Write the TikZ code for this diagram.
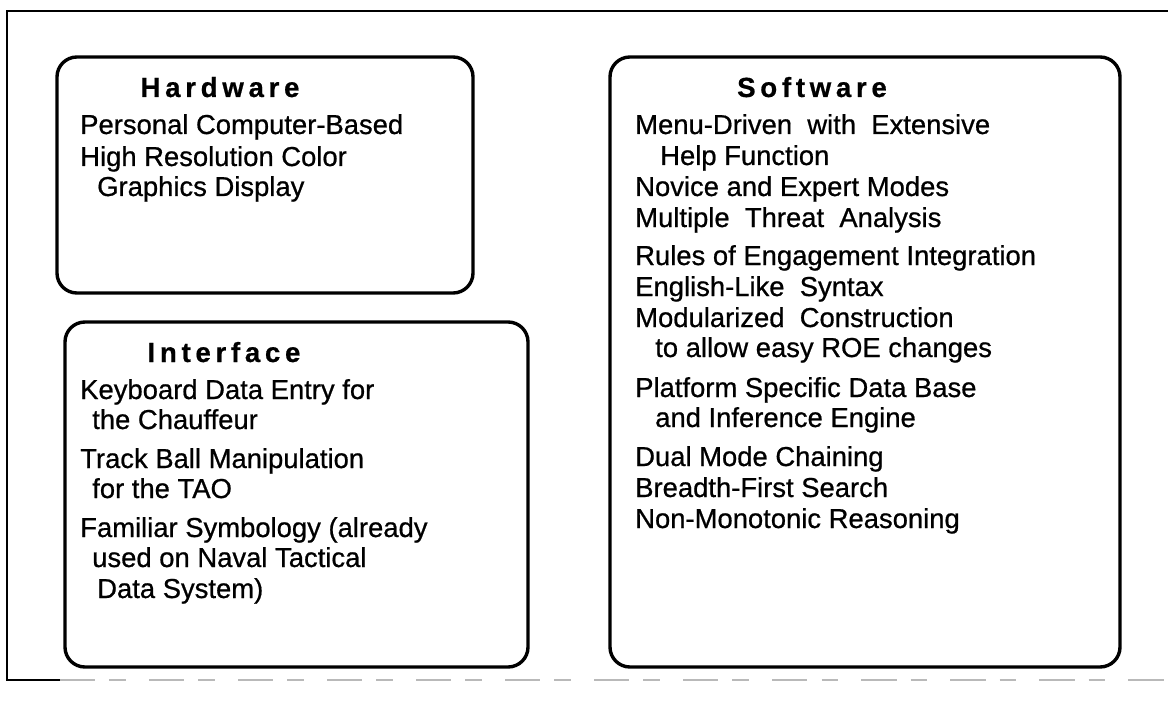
\documentclass[tikz,border=0pt]{standalone}
\usepackage{fontspec}
\setmainfont{Liberation Sans}[FakeBold=0.7]
\newfontfamily\headfont[LetterSpace=17,FakeBold=0.6]{Liberation Sans Bold}
\usetikzlibrary{fit}
\begin{document}
\begin{tikzpicture}[x=0.03cm, y=-0.03cm,
  panel/.style={draw, line width=2.9pt, rounded corners=17pt, inner sep=0pt},
  heading/.style={anchor=base, inner sep=0pt, font=\fontsize{23.6pt}{28pt}\headfont},
  item/.style={anchor=base west, inner sep=0pt, font=\fontsize{23.4pt}{28pt}\selectfont},
  frameline/.style={line width=1.8pt}]
\useasboundingbox (0,0) rectangle (1168,706);

% outer frame
\coordinate (ftr) at (1168,11);
\coordinate (ftl) at (7,11);
\coordinate (fbl) at (7,680);
\coordinate (fbm) at (60,680);
\coordinate (fbr) at (1168,680);
\draw[frameline] (ftr) -- (ftl) -- (fbl) -- (fbm);
\draw[frameline, gray!55, dash pattern=on 30pt off 12pt on 14pt off 20pt] (fbm) -- (fbr);

% panels
\node[panel, fit={(57,57) (473,293)}] (hw) {};
\node[panel, fit={(65,322) (528,667)}] (ifc) {};
\node[panel, fit={(610,57) (1120,667)}] (sw) {};

% Hardware
\node[heading] (hwt) at (220,97) {Hardware};
\node[item] (hw1) at (80,134) {Personal Computer-Based};
\node[item] (hw2) at (80,166) {High Resolution Color};
\node[item] (hw3) at (97,196) {Graphics Display};

% Interface
\node[heading] (ift) at (224,362) {Interface};
\node[item] (if1) at (80,399) {Keyboard Data Entry for};
\node[item] (if2) at (92,429) {the Chauffeur};
\node[item] (if3) at (80,468) {Track Ball Manipulation};
\node[item] (if4) at (92,498) {for the TAO};
\node[item] (if5) at (80,537) {Familiar Symbology (already};
\node[item] (if6) at (92,567) {used on Naval Tactical};
\node[item] (if7) at (97,598) {Data System)};

% Software
\node[heading] (swt) at (812,97) {Software};
\node[item] (sw1) at (635,134) {Menu-Driven\ \ with\ \ Extensive};
\node[item] (sw2) at (660,165) {Help Function};
\node[item] (sw3) at (635,196) {Novice and Expert Modes};
\node[item] (sw4) at (635,227) {Multiple\ \ Threat\ \ Analysis};
\node[item] (sw5) at (635,265) {Rules of Engagement Integration};
\node[item] (sw6) at (635,296) {English-Like\ \ Syntax};
\node[item] (sw7) at (635,327) {Modularized\ \ Construction};
\node[item] (sw8) at (655,357) {to allow easy ROE changes};
\node[item] (sw9) at (635,397) {Platform Specific Data Base};
\node[item] (sw10) at (655,427) {and Inference Engine};
\node[item] (sw11) at (635,466) {Dual Mode Chaining};
\node[item] (sw12) at (635,497) {Breadth-First Search};
\node[item] (sw13) at (635,528) {Non-Monotonic Reasoning};
\end{tikzpicture}
\end{document}
